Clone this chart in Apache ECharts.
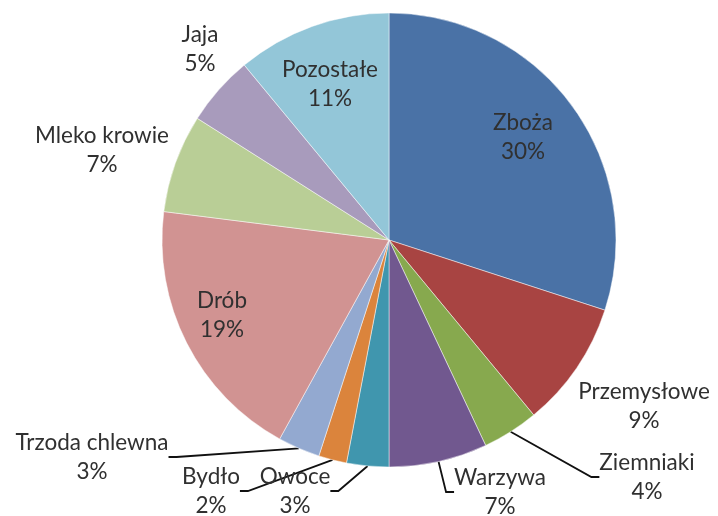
<!DOCTYPE html>
<html>
<head>
<meta charset="utf-8">
<script src="https://cdn.jsdelivr.net/npm/echarts@6/dist/echarts.min.js"></script>
<style>
  html, body { margin: 0; padding: 0; background: #fff; }
  #chart { width: 718px; height: 516px; }
</style>
</head>
<body>
<div id="chart"></div>
<script>
// kategorie (zgodnie z ruchem wskazówek zegara od góry)
const categories = ['Zboża', 'Przemysłowe', 'Ziemniaki', 'Warzywa', 'Owoce', 'Bydło',
  'Trzoda chlewna', 'Drób', 'Mleko krowie', 'Jaja', 'Pozostałe'];
const shares = [30, 9, 4, 7, 3, 2, 3, 19, 7, 5, 11];
const colors = ['#4a72a6', '#a84442', '#87a94e', '#71588f', '#4096ae', '#db843c',
  '#93a9d0', '#d19392', '#b9ce96', '#a89bbc', '#93c6d8'];

// which labels get a leader line (Excel style)
const withLine = [false, false, true, true, true, true, true, false, false, false, false];
// label block centres
const labelAt = [[523, 137], [644, 406], [647, 477], [500, 492], [295, 491], [211, 491],
  [92, 457], [222, 315], [102, 150], [200, 49], [330, 84]];

const chart = echarts.init(document.getElementById('chart'));

const data = categories.map((name, i) => ({
  name: name,
  value: shares[i],
  itemStyle: { color: colors[i] },
  labelLine: { show: withLine[i] }
}));

chart.setOption({
  animation: false,
  series: [{
    type: 'pie',
    center: [389, 240],
    radius: 227,
    startAngle: 90,
    clockwise: true,
    data: data,
    itemStyle: { borderColor: 'rgba(255,255,255,0.6)', borderWidth: 0.8 },
    label: {
      show: true,
      position: 'outside',
      formatter: p => p.name + '\n' + p.value + '%',
      fontFamily: 'Lato',
      fontSize: 22.5,
      lineHeight: 29,
      color: '#303030',
      align: 'center',
      overflow: 'none',
      edgeDistance: 0
    },
    labelLine: {
      length: 10,
      length2: 8,
      lineStyle: { color: '#111', width: 1.8 }
    },
    labelLayout: p => ({
      x: labelAt[p.dataIndex][0],
      y: labelAt[p.dataIndex][1],
      align: 'center',
      verticalAlign: 'middle'
    }),
    emphasis: { disabled: true }
  }]
});
</script>
</body>
</html>
